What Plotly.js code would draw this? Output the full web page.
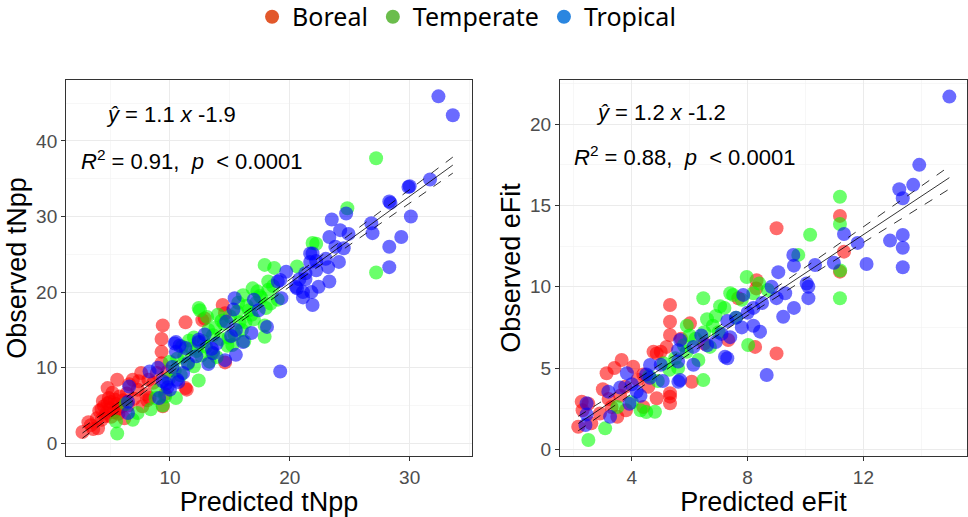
<!DOCTYPE html>
<html><head><meta charset="utf-8">
<script src="https://cdn.plot.ly/plotly-3.0.1.min.js"></script>
<style>html,body{margin:0;padding:0;background:#fff}#chart{width:968px;height:517px}</style>
</head><body><div id="chart"></div>
<script>
// ---------- data ----------
const groups = ["Boreal", "Temperate", "Tropical"];

// Left panel: Predicted vs Observed tNpp
const tnppBorealX = [2.7,3.4,4.0,3.6,4.3,4.6,4.1,4.5,4.8,5.0,5.3,5.5,4.9,5.2,4.8,5.6,5.8,6.1,6.0,5.7,6.2,4.7,5.1,5.4,4.4,3.9,6.4,6.9,7.3,7.6,8.2,7.0,7.7,8.0,7.4,8.9,8.6,6.6,9.4,9.6,9.3,9.3,9.3,9.4,11.3,12.7,12.9,14.4,14.6,11.3,11.4,9.8,8.3,8.1,14.6,5.0,5.6,4.3,6.5,3.2];
const tnppBorealY = [1.5,2.4,2.0,1.9,3.1,3.6,4.3,4.9,5.3,4.6,4.1,5.2,6.0,6.7,7.3,8.4,6.2,5.7,4.9,3.9,3.3,4.0,3.5,5.8,5.6,3.3,6.6,8.4,7.1,9.3,8.4,5.9,4.9,6.5,8.2,9.3,8.0,7.8,4.9,6.5,10.6,12.1,13.8,15.6,16.0,16.3,16.5,18.3,17.2,7.3,7.1,9.5,6.0,5.7,10.7,5.5,4.5,4.5,5.0,2.8];
const tnppTemperateX = [5.6,5.5,6.9,7.3,8.8,9.4,10.5,9.0,9.9,10.4,10.9,11.5,12.4,11.2,11.8,12.0,12.6,13.0,13.3,13.6,12.4,13.1,12.5,13.8,14.2,14.5,15.0,15.6,16.1,16.4,16.8,17.2,17.6,18.0,17.9,17.9,17.9,18.7,20.6,21.9,18.2,18.2,17.5,16.3,15.4,14.8,13.9,15.2,16.0,18.6,19.0,14.0,12.0,11.0,10.6,22.2,24.8,27.2,27.2,15.7,16.9,13.2,11.6,8.4,10.0,12.8,9.6,6.3,14.3,15.8,16.6,17.0,13.5,12.2,14.9,17.3,18.4,16.2];
const tnppTemperateY = [1.3,2.9,3.1,4.0,6.0,5.0,6.0,7.0,8.5,9.6,9.0,10.5,8.3,11.5,12.5,10.2,11.6,12.8,10.8,14.3,17.9,16.7,17.6,15.3,13.8,15.8,16.8,17.4,19.6,18.2,17.0,18.6,19.3,17.9,14.1,15.6,23.6,23.2,23.4,26.5,21.4,20.3,19.5,16.0,14.4,12.9,11.4,13.0,15.0,20.8,19.0,17.0,14.0,12.8,11.2,26.4,31.1,37.7,22.6,18.6,20.5,15.0,13.6,4.5,10.8,13.5,6.2,5.2,16.2,16.0,17.6,16.4,12.0,12.2,14.0,20.1,18.5,13.5];
const tnppTropicalX = [6.6,6.5,6.5,8.3,9.0,9.7,9.8,10.7,9.1,10.2,10.5,10.8,12.4,12.2,13.5,9.4,11.1,10.6,10.0,10.4,10.5,11.3,12.4,13.6,13.9,14.6,15.5,15.1,16.1,15.5,14.7,18.1,17.4,15.3,15.4,19.2,19.3,19.0,19.7,20.6,21.1,21.9,21.3,21.7,22.2,20.8,21.3,22.4,19.2,20.5,21.1,21.8,22.2,23.2,23.3,21.7,24.1,23.0,21.9,24.5,23.8,23.3,24.9,24.2,24.7,23.5,26.9,26.8,28.3,28.3,29.3,30.1,28.3,29.9,31.7,32.4,33.6,16.8,17.0,12.9,11.5,13.2,28.4,30.0];
const tnppTropicalY = [7.5,5.5,4.0,9.5,10.0,7.9,7.4,8.1,6.0,10.1,13.4,12.9,13.4,11.5,12.5,8.2,9.3,8.4,7.1,13.2,12.1,12.6,13.7,11.9,13.2,11.0,11.7,14.2,13.4,15.0,16.1,15.4,17.6,17.7,19.2,9.5,19.2,21.4,22.7,20.5,19.3,18.3,21.7,25.1,24.1,21.7,22.5,20.7,21.6,20.7,20.0,20.0,22.9,23.3,21.4,24.0,24.0,24.4,25.1,25.8,26.0,27.3,27.7,28.2,30.4,29.6,27.8,29.1,23.3,26.0,27.3,30.0,32.0,33.9,34.9,45.9,43.4,14.6,19.0,14.4,10.6,10.5,31.8,34.0];

// Right panel: Predicted vs Observed eFit
const efitBorealX = [2.15,2.27,2.3,2.6,2.9,3.13,3.4,3.65,3.2,3.3,3.5,3.6,3.77,3.8,4.05,4.2,4.4,4.57,4.86,4.86,5.2,5.32,5.32,5.32,5.32,5.32,5.32,6.01,6.07,5.0,4.4,3.0,2.5,7.33,7.68,8.26,8.31,9.0,9.0,11.19,11.33,11.19,6.5,5.7,8.3,4.75];
const efitBorealY = [1.39,2.93,2.4,1.6,2.2,4.68,5.0,5.5,3.1,2.6,2.0,3.3,3.85,2.4,5.08,4.3,2.6,3.85,3.14,5.9,6.3,3.24,2.83,3.45,7.03,7.85,8.88,7.75,4.16,6.0,4.6,3.7,2.8,6.73,9.29,6.3,10.4,5.9,13.6,14.36,12.16,10.93,6.5,6.8,9.9,6.0];
const efitTemperateX = [2.5,3.08,3.5,4.0,4.3,4.5,4.8,4.6,4.9,5.1,5.3,5.5,5.9,7.05,6.47,6.2,6.5,6.8,6.3,6.47,7.0,7.2,7.5,7.6,7.97,8.02,7.8,8.2,6.7,6.9,7.4,8.7,9.75,5.9,10.16,6.6,11.19,11.19,11.19,11.2,5.6,5.8,6.0,8.4];
const efitTemperateY = [0.57,1.29,2.6,2.9,2.4,2.3,2.31,4.5,4.2,5.3,4.9,5.6,6.0,8.8,9.29,6.8,7.2,7.6,5.5,4.26,7.2,8.7,9.5,8.1,10.6,6.42,9.2,9.6,6.3,8.2,9.6,9.8,11.96,7.6,13.2,8.0,15.54,13.86,9.29,11.0,5.0,6.4,7.0,10.2];
const efitTropicalX = [2.44,2.44,2.4,3.19,3.25,3.83,4.17,3.92,4.63,5.0,4.63,5.07,5.67,5.67,5.6,5.6,6.13,6.13,5.61,7.22,6.6,6.9,7.1,7.3,7.6,7.8,8.0,8.2,8.43,8.2,8.66,8.83,8.5,9.0,9.23,9.06,9.58,9.6,10.33,10.1,10.1,10.04,9.6,10.98,11.33,11.8,12.11,12.92,13.36,13.36,13.36,13.24,13.36,13.72,13.93,14.97,4.0,4.3,3.6,6.4,7.4,9.3,7.85,7.3,4.5];
const efitTropicalY = [2.83,2.15,1.5,3.55,2.0,4.68,3.55,2.8,5.19,5.2,4.4,4.2,4.26,6.72,6.1,5.4,6.3,5.2,4.16,5.7,6.4,6.6,7.1,7.9,8.1,7.5,8.4,8.7,7.24,7.6,4.57,10.0,9.0,9.3,8.16,10.9,11.96,11.3,11.34,10.0,9.3,10.2,8.7,11.48,13.25,12.7,11.4,12.84,13.19,12.4,11.2,16.0,15.45,16.27,17.5,21.7,4.0,3.3,3.8,7.0,6.9,9.6,9.5,5.6,4.6];

const eqLeft = "<i>ŷ</i> = 1.1 <i>x</i> -1.9";
const statLeft = "<i>R</i><sup>2</sup> = 0.91,  <i>p</i>  < 0.0001";
const eqRight = "<i>ŷ</i> = 1.2 <i>x</i> -1.2";
const statRight = "<i>R</i><sup>2</sup> = 0.88,  <i>p</i>  < 0.0001";

// ---------- styling ----------
const legendColors = ["#E2582B", "#6BBD4C", "#2A86E0"];
const pointColors = ["rgba(255,0,0,0.58)", "rgba(0,255,0,0.58)", "rgba(0,0,255,0.58)"];
const FONT = "Liberation Sans, Arial, sans-serif";

// ---------- regression (lm with 95% CI) ----------
function lmBand(xs, ys) {
  const n = xs.length;
  const xb = xs.reduce((a, b) => a + b, 0) / n;
  const yb = ys.reduce((a, b) => a + b, 0) / n;
  let sxx = 0, sxy = 0;
  for (let i = 0; i < n; i++) { sxx += (xs[i] - xb) ** 2; sxy += (xs[i] - xb) * (ys[i] - yb); }
  const b = sxy / sxx, a = yb - b * xb;
  let sse = 0;
  for (let i = 0; i < n; i++) sse += (ys[i] - a - b * xs[i]) ** 2;
  const s = Math.sqrt(sse / (n - 2)), t = 1.97;
  const lo = Math.min(...xs), hi = Math.max(...xs);
  const gx = [], fy = [], uy = [], ly = [];
  for (let k = 0; k <= 60; k++) {
    const x = lo + (hi - lo) * k / 60;
    const f = a + b * x;
    const se = s * Math.sqrt(1 / n + (x - xb) ** 2 / sxx);
    gx.push(x); fy.push(f); uy.push(f + t * se); ly.push(f - t * se);
  }
  return { gx, fy, uy, ly };
}

const traces = [];
function panel(xsets, ysets, xa, ya) {
  xsets.forEach((xs, i) => {
    traces.push({
      type: "scatter", mode: "markers", x: xs, y: ysets[i], xaxis: xa, yaxis: ya,
      showlegend: false, hoverinfo: "skip",
      marker: { size: 14, color: pointColors[i], line: { width: 0 } }
    });
  });
  const allX = [].concat(...xsets), allY = [].concat(...ysets);
  const r = lmBand(allX, allY);
  const base = { type: "scatter", mode: "lines", xaxis: xa, yaxis: ya, showlegend: false, hoverinfo: "skip" };
  traces.push(Object.assign({}, base, { x: r.gx, y: r.uy, line: { color: "#000", width: 0.8, dash: "dash" } }));
  traces.push(Object.assign({}, base, { x: r.gx, y: r.ly, line: { color: "#000", width: 0.8, dash: "dash" } }));
  traces.push(Object.assign({}, base, { x: r.gx, y: r.fy, line: { color: "#000", width: 0.8 } }));
}
panel([tnppBorealX, tnppTemperateX, tnppTropicalX], [tnppBorealY, tnppTemperateY, tnppTropicalY], "x", "y");
panel([efitBorealX, efitTemperateX, efitTropicalX], [efitBorealY, efitTemperateY, efitTropicalY], "x2", "y2");

// legend-only traces
groups.forEach((g, i) => {
  traces.push({ type: "scatter", mode: "markers", x: [null], y: [null], name: g,
    marker: { size: 14, color: legendColors[i] }, hoverinfo: "skip" });
});

const TITLEFONT = { family: FONT, size: 27, color: "#000" };
function axis(extra) {
  return Object.assign({
    showgrid: true, gridcolor: "#ebebeb", gridwidth: 1, zeroline: false,
    showline: true, mirror: true, linecolor: "#333333", linewidth: 1,
    ticks: "outside", ticklen: 4, tickcolor: "#333333", tickwidth: 1,
    tickfont: { family: FONT, size: 19, color: "#4d4d4d" },
    automargin: false, fixedrange: true
  }, extra);
}

const layout = {
  width: 968, height: 517,
  margin: { l: 0, r: 0, t: 80, b: 61, autoexpand: false },
  paper_bgcolor: "#fff", plot_bgcolor: "#fff",
  font: { family: FONT, color: "#000" },
  showlegend: true,
  legend: { orientation: "h", x: 0.482, xanchor: "center", y: 1.1676, yanchor: "middle",
    font: { family: "Noto Sans, sans-serif", size: 25, color: "#000" }, itemclick: false },
  xaxis: axis({ domain: [0.0682, 0.4876], anchor: "y", range: [1.33, 35.2], tick0: 0, dtick: 10,
    minor: { dtick: 5, showgrid: true, gridcolor: "#f2f2f2", gridwidth: 0.6 },
    title: { text: "Predicted tNpp", font: TITLEFONT, standoff: 1 } }),
  yaxis: axis({ domain: [0, 1], anchor: "x", range: [-1.68, 48.06], tick0: 0, dtick: 10,
    minor: { dtick: 5, showgrid: true, gridcolor: "#f2f2f2", gridwidth: 0.6 },
    title: { text: "Observed tNpp", font: TITLEFONT, standoff: 1 } }),
  xaxis2: axis({ domain: [0.5785, 0.999], anchor: "y2", range: [1.52, 15.58], tick0: 0, dtick: 4,
    minor: { dtick: 2, showgrid: true, gridcolor: "#f2f2f2", gridwidth: 0.6 },
    title: { text: "Predicted eFit", font: TITLEFONT, standoff: 1 } }),
  yaxis2: axis({ domain: [0, 1], anchor: "x2", range: [-0.41, 22.72], tick0: 0, dtick: 5,
    minor: { dtick: 2.5, showgrid: true, gridcolor: "#f2f2f2", gridwidth: 0.6 },
    title: { text: "Observed eFit", font: TITLEFONT, standoff: 1 } }),
  annotations: [
    { xref: "x domain", yref: "y domain", x: 0.094, y: 0.907, xanchor: "left", yanchor: "middle",
      text: eqLeft, showarrow: false, font: { family: FONT, size: 22, color: "#000" } },
    { xref: "x domain", yref: "y domain", x: 0.032, y: 0.788, xanchor: "left", yanchor: "middle",
      text: statLeft, showarrow: false, font: { family: FONT, size: 22, color: "#000" } },
    { xref: "x2 domain", yref: "y2 domain", x: 0.084, y: 0.913, xanchor: "left", yanchor: "middle",
      text: eqRight, showarrow: false, font: { family: FONT, size: 22, color: "#000" } },
    { xref: "x2 domain", yref: "y2 domain", x: 0.030, y: 0.797, xanchor: "left", yanchor: "middle",
      text: statRight, showarrow: false, font: { family: FONT, size: 22, color: "#000" } }
  ]
};

Plotly.newPlot("chart", traces, layout, { displayModeBar: false, staticPlot: true });
</script>
</body></html>
